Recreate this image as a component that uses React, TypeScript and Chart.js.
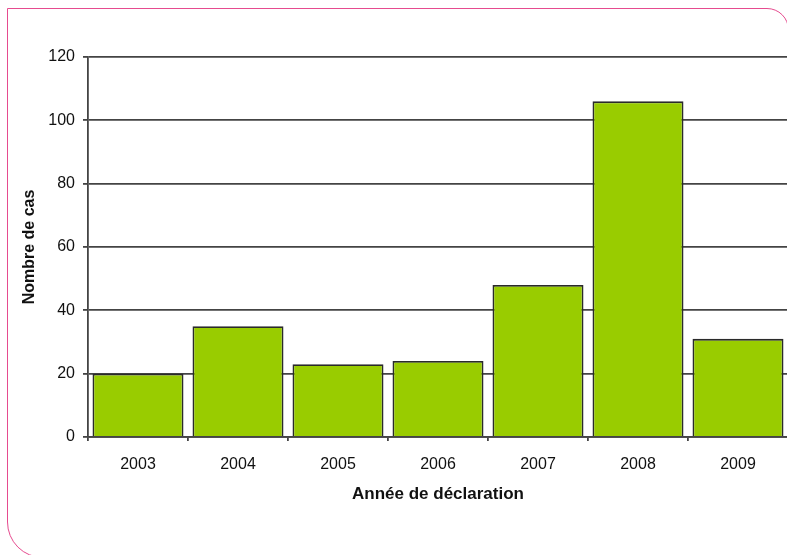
import React, { useEffect, useRef } from "react";
import { Chart, registerables } from "chart.js";

Chart.register(...registerables);

const categories = ["2003", "2004", "2005", "2006", "2007", "2008", "2009"];
const cases = [20, 35, 23, 24, 48, 106, 31];
const yTicks = [0, 20, 40, 60, 80, 100, 120];
const yTitle = "Nombre de cas";
const xTitle = "Année de déclaration";

export default function App() {
  const ref = useRef<HTMLCanvasElement | null>(null);

  useEffect(() => {
    if (!ref.current) return;
    const font = "'Liberation Sans', Arial, sans-serif";
    const chart = new Chart(ref.current, {
      type: "bar",
      data: {
        labels: categories,
        datasets: [
          {
            data: cases,
            backgroundColor: "#99cc00",
            borderColor: "#2a2a2a",
            borderWidth: 1.8,
            categoryPercentage: 1,
            barPercentage: 0.91,
          },
        ],
      },
      options: {
        animation: false,
        responsive: false,
        maintainAspectRatio: false,
        layout: { padding: { left: 0, top: 57, right: 12, bottom: 0 } },
        plugins: { legend: { display: false }, tooltip: { enabled: false } },
        scales: {
          x: {
            afterFit: (s: any) => {
              s.height = 118;
            },
            grid: {
              display: true,
              drawOnChartArea: false,
              drawTicks: true,
              tickLength: 4,
              color: "#444",
              lineWidth: 1.8,
              offset: true,
            },
            border: { display: true, color: "#444", width: 1.8 },
            ticks: {
              color: "#111",
              font: { family: font, size: 16 },
              padding: 14,
              maxRotation: 0,
            },
            title: {
              display: true,
              text: xTitle,
              color: "#111",
              font: { family: font, size: 17, weight: "bold" },
              padding: { top: 0, bottom: 50 },
            },
          },
          y: {
            min: 0,
            max: 120,
            afterFit: (s: any) => {
              s.width = 88;
            },
            afterBuildTicks: (s: any) => {
              s.ticks = yTicks.map((v) => ({ value: v }));
            },
            grid: {
              color: "#444",
              lineWidth: 1.8,
              tickLength: 5,
              drawTicks: true,
            },
            border: { display: true, color: "#444", width: 1.8 },
            ticks: {
              color: "#111",
              font: { family: font, size: 16 },
              padding: 8,
            },
            title: {
              display: true,
              text: yTitle,
              color: "#111",
              font: { family: font, size: 16, weight: "bold" },
              padding: { top: 20, bottom: 0 },
            },
          },
        },
      },
    });
    return () => chart.destroy();
  }, []);

  return (
    <div
      style={{
        position: "fixed",
        left: 0,
        top: 0,
        width: 787,
        height: 555,
        overflow: "hidden",
        background: "#fff",
      }}
    >
      <div
        style={{
          position: "absolute",
          left: 7,
          top: 8,
          width: 780,
          height: 548,
          border: "1.5px solid #e64b8f",
          borderRadius: "0 22px 0 36px",
        }}
      />
      <canvas
        ref={ref}
        width={800}
        height={555}
        style={{ position: "absolute", left: 0, top: 0, width: 800, height: 555 }}
      />
    </div>
  );
}
